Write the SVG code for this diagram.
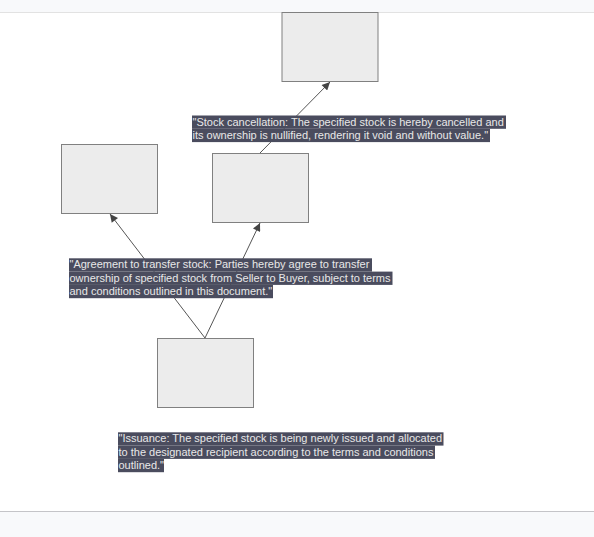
<svg xmlns="http://www.w3.org/2000/svg" width="594" height="537" viewBox="0 0 594 537">
<style>
.node{fill:#ececec;stroke:#808080;stroke-width:1}
.edge{fill:none;stroke:#555;stroke-width:1}
.lbg{fill:#4a4c5e}
.lt{font-family:"Liberation Sans",Arial,sans-serif;font-size:11px;fill:#e8e8e8}
</style>
<defs>
<marker id="arr" viewBox="0 0 10 10" refX="10" refY="5" markerWidth="9" markerHeight="8" markerUnits="userSpaceOnUse" orient="auto">
<path d="M0,0 L10,5 L0,10 z" fill="#444"/>
</marker>
</defs>
<rect x="0" y="0" width="594" height="12" fill="#f8f9fb"/>
<line x1="0" y1="12.5" x2="594" y2="12.5" stroke="#e2e2e2"/>
<rect x="0" y="512" width="594" height="25" fill="#f8f9fb"/>
<line x1="0" y1="511.5" x2="594" y2="511.5" stroke="#c4c4c8"/>
<g id="connectors">
<line class="edge" x1="205" y1="338" x2="110" y2="214" marker-end="url(#arr)"/>
<line class="edge" x1="205" y1="338" x2="260" y2="223" marker-end="url(#arr)"/>
<line class="edge" x1="260" y1="153" x2="330" y2="82" marker-end="url(#arr)"/>
<g id="label-cancel">
<rect class="lbg" x="192" y="115.5" width="314" height="13.3"/>
<rect class="lbg" x="192" y="128.8" width="298" height="13.3"/>
<text class="lt" x="192.5" y="125.5">"Stock cancellation: The specified stock is hereby cancelled and</text>
<text class="lt" x="192.5" y="138.8">its ownership is nullified, rendering it void and without value."</text>
</g>
<g id="label-agree">
<rect class="lbg" x="69" y="258.3" width="303" height="13.3"/>
<rect class="lbg" x="69" y="271.6" width="323.5" height="13.3"/>
<rect class="lbg" x="69" y="284.9" width="204" height="13.3"/>
<text class="lt" x="69.5" y="268.3">"Agreement to transfer stock: Parties hereby agree to transfer</text>
<text class="lt" x="69.5" y="281.6">ownership of specified stock from Seller to Buyer, subject to terms</text>
<text class="lt" x="69.5" y="294.9">and conditions outlined in this document."</text>
</g>
<g id="label-issue">
<rect class="lbg" x="118" y="432.3" width="325.5" height="13.3"/>
<rect class="lbg" x="118" y="445.6" width="317" height="13.3"/>
<rect class="lbg" x="118" y="458.9" width="46" height="13.3"/>
<text class="lt" x="118.5" y="442.3">"Issuance: The specified stock is being newly issued and allocated</text>
<text class="lt" x="118.5" y="455.6">to the designated recipient according to the terms and conditions</text>
<text class="lt" x="118.5" y="468.9">outlined."</text>
</g>
</g>
<g id="node-top"><rect class="node" x="282" y="12.5" width="96" height="69"/></g>
<g id="node-left"><rect class="node" x="61.5" y="144.5" width="96" height="69"/></g>
<g id="node-middle"><rect class="node" x="212.5" y="153.5" width="96" height="69"/></g>
<g id="node-bottom"><rect class="node" x="157.5" y="338.5" width="96" height="69"/></g>
</svg>
